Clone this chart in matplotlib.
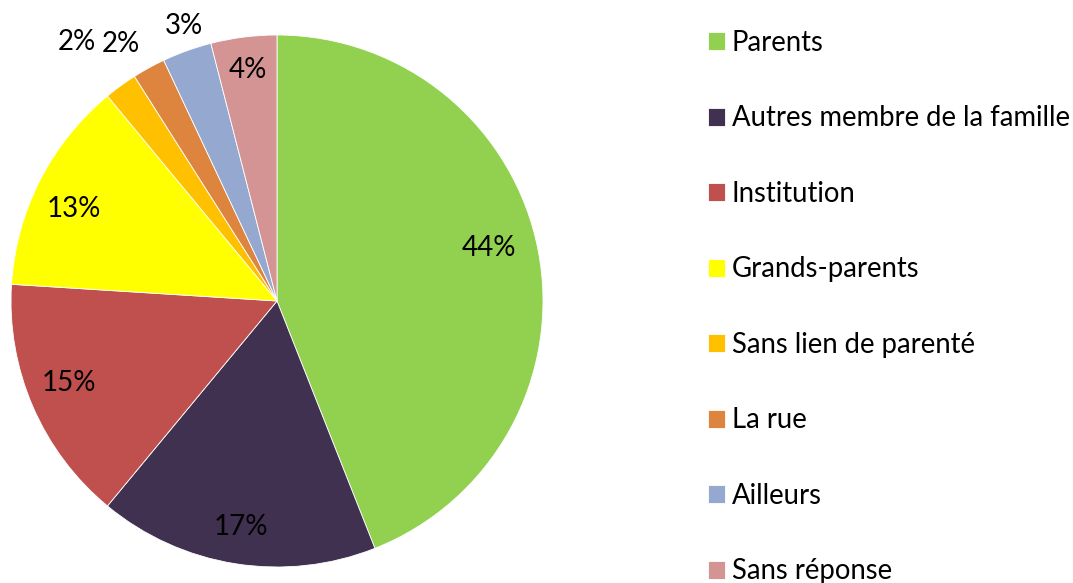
import matplotlib
matplotlib.use("Agg")
import matplotlib.pyplot as plt
import numpy as np

plt.rcParams["font.family"] = ["Lato", "DejaVu Sans"]

CATEGORIES = [
    "Parents",
    "Autres membre de la famille",
    "Institution",
    "Grands-parents",
    "Sans lien de parenté",
    "La rue",
    "Ailleurs",
    "Sans réponse",
]
VALUES = [44, 17, 15, 13, 2, 2, 3, 4]
COLORS = ["#92D050", "#403151", "#C0504D", "#FFFF00", "#FFC000", "#DD853F", "#95A9D0", "#D49494"]
# percentage label placement: fraction of radius, and angle shift from wedge middle (deg)
LABEL_DIST = [0.82, 0.86, 0.84, 0.84, 1.23, 1.13, 1.09, 0.875]
LABEL_SHIFT = [3.2, 0, -1.8, 2.6, 1.8, 2.6, -1.1, 0]

fig = plt.figure(figsize=(10.73, 5.83), dpi=100)
ax = fig.add_axes([11 / 1073, 16 / 583, 532 / 1073, 532 / 583])

wedges, _ = ax.pie(
    VALUES,
    colors=COLORS,
    startangle=90,
    counterclock=False,
    radius=1.0,
    wedgeprops=dict(edgecolor="white", linewidth=0.6),
)
ax.set_xlim(-1, 1)
ax.set_ylim(-1, 1)
ax.set_aspect("equal")
ax.axis("off")

total = sum(VALUES)
for w, v, d, s in zip(wedges, VALUES, LABEL_DIST, LABEL_SHIFT):
    mid = np.deg2rad((w.theta1 + w.theta2) / 2 + s)
    ax.text(d * np.cos(mid), d * np.sin(mid), f"{round(100 * v / total)}%",
            ha="center", va="center", fontsize=20, color="black", clip_on=False)

leg = fig.legend(
    wedges,
    CATEGORIES,
    loc="upper left",
    bbox_to_anchor=(708 / 1073, 1 - 30 / 583),
    frameon=False,
    fontsize=19.8,
    handlelength=0.62,
    handleheight=0.62,
    handletextpad=0.25,
    labelspacing=1.80,
    borderaxespad=0,
    borderpad=0,
)

fig.savefig("out.png", dpi=100)
